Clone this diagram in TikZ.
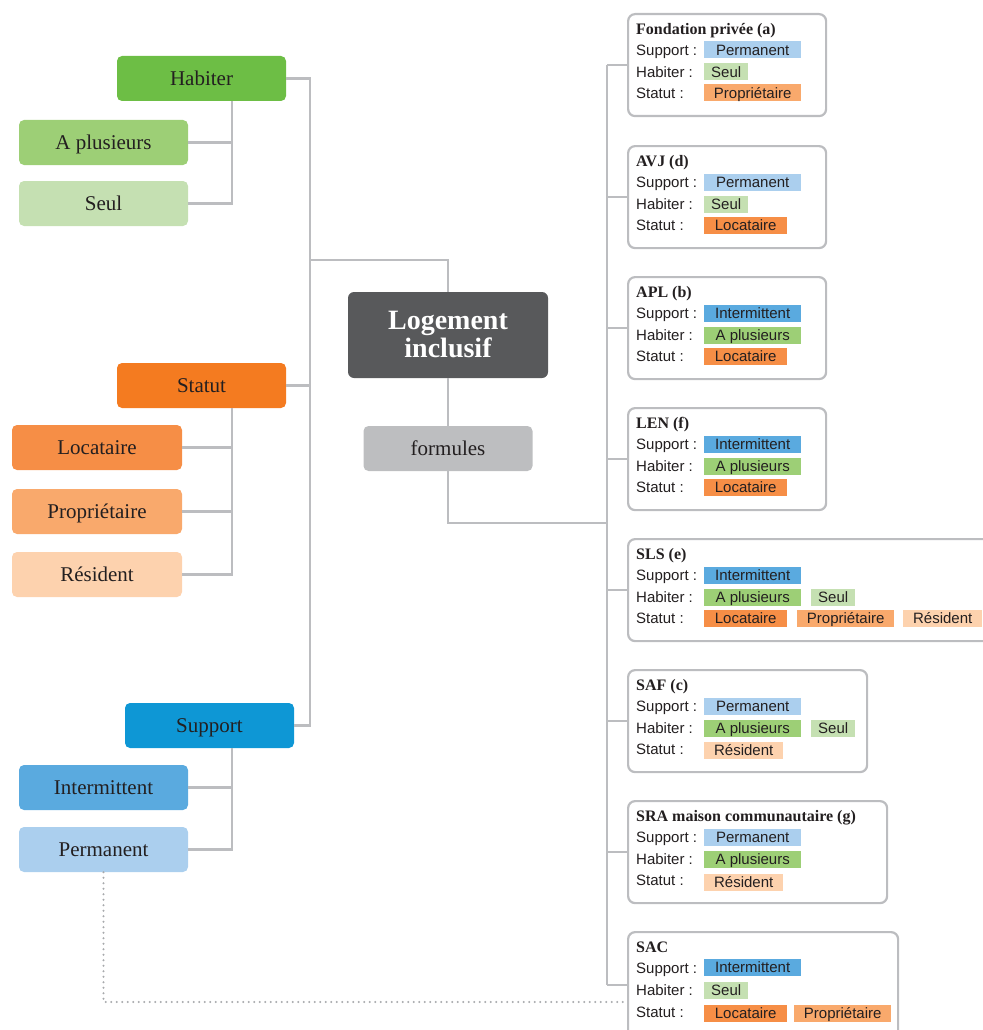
\documentclass[tikz,border=0pt]{standalone}
\usepackage{fontspec}
\setmainfont{Liberation Serif}
\newfontfamily\tagfont{Liberation Sans}
\definecolor{txt}{HTML}{231F20}
\definecolor{lgray}{HTML}{BCBDC0}
\definecolor{dgray}{HTML}{A7A9AC}
\definecolor{cHab}{HTML}{6DBE45}
\definecolor{cPlus}{HTML}{9DCF76}
\definecolor{cSeul}{HTML}{C5E0B2}
\definecolor{cStat}{HTML}{F47B20}
\definecolor{cLoc}{HTML}{F68E46}
\definecolor{cProp}{HTML}{F9A96C}
\definecolor{cRes}{HTML}{FDD2AE}
\definecolor{cSup}{HTML}{0E97D5}
\definecolor{cInt}{HTML}{5AAADF}
\definecolor{cPerm}{HTML}{ABCFEE}
\definecolor{cLog}{HTML}{58595B}
\definecolor{cForm}{HTML}{BDBEC0}
\tikzset{
  cat/.style={rounded corners=5pt, minimum width=169pt, minimum height=45pt, inner sep=0pt,
    text height=14pt, text depth=0pt,
    font=\fontsize{21}{24}\selectfont, text=txt},
  conn/.style={draw=lgray, line width=2.5pt},
  dotconn/.style={draw=dgray, line width=2.3pt, line cap=round, dash pattern=on 0pt off 5.5pt},
  fbox/.style={draw=lgray, line width=2.2pt, rounded corners=7pt, fill=white, anchor=north west,
    inner sep=0pt, minimum height=102pt},
  tag/.style={anchor=west, minimum height=17pt, inner sep=0pt, text=txt,
    text height=11.5pt, text depth=0pt,
    font=\tagfont\fontsize{15}{16}\selectfont},
  lbl/.style={anchor=west, inner sep=0pt, text=txt, text height=11.5pt, text depth=0pt,
    font=\tagfont\fontsize{15}{16}\selectfont},
  ttl/.style={anchor=west, inner sep=0pt, text=txt, text height=11.5pt, text depth=0pt,
    font=\bfseries\fontsize{16}{18}\selectfont},
  tperm/.style={tag, fill=cPerm, minimum width=97pt},
  tint/.style={tag, fill=cInt, minimum width=97pt},
  tseul/.style={tag, fill=cSeul, minimum width=44pt},
  tplus/.style={tag, fill=cPlus, minimum width=97pt},
  tloc/.style={tag, fill=cLoc, minimum width=83pt},
  tprop/.style={tag, fill=cProp, minimum width=97pt},
  tres/.style={tag, fill=cRes, minimum width=79pt},
}
\newcommand\formbox[4]{%
  \node[fbox, minimum width=#3pt] (#1) at (627,#2) {};
  \node[ttl] (#1-t) at (636,#2+16) {#4};
  \node[lbl] (#1-s) at (636,#2+37) {Support :};
  \node[lbl] (#1-h) at (636,#2+59) {Habiter :};
  \node[lbl] (#1-u) at (636,#2+80) {Statut :};
}
\begin{document}
\begin{tikzpicture}[x=1pt,y=-1pt]
\useasboundingbox (0,0) rectangle (982,1030);
\coordinate (hx) at (232,0);
\coordinate (lt) at (310,0);
\coordinate (rt) at (607,0);
\coordinate (j1) at (310,260);
\coordinate (j2) at (607,523);

% left categories
\node[cat, fill=cHab] (hab) at (201.5,78.5) {Habiter};
\node[cat, fill=cPlus] (hab1) at (103.5,142.5) {A plusieurs};
\node[cat, fill=cSeul] (hab2) at (103.5,203.5) {Seul};
\node[cat, fill=cStat] (stat) at (201.5,385.5) {Statut};
\node[cat, fill=cLoc, minimum width=170pt] (st1) at (97,447.5) {Locataire};
\node[cat, fill=cProp, minimum width=170pt] (st2) at (97,511.5) {Propriétaire};
\node[cat, fill=cRes, minimum width=170pt] (st3) at (97,574.5) {Résident};
\node[cat, fill=cSup] (sup) at (209.5,725.5) {Support};
\node[cat, fill=cInt] (su1) at (103.5,787.5) {Intermittent};
\node[cat, fill=cPerm] (su2) at (103.5,849.5) {Permanent};

% centre
\node[rounded corners=6pt, fill=cLog, minimum width=200pt, minimum height=86pt, inner sep=0pt,
  text=white, align=center, font=\bfseries\fontsize{28}{28}\selectfont] (log) at (448,335) {Logement\\inclusif};
\node[cat, fill=cForm] (form) at (448,448.5) {formules};

% left connectors
\draw[conn] (hab.south -| hx) |- (hab2.east);
\draw[conn] (hab1.east) -- (hab1.east -| hx);
\draw[conn] (stat.south -| hx) |- (st3.east);
\draw[conn] (st1.east) -- (st1.east -| hx);
\draw[conn] (st2.east) -- (st2.east -| hx);
\draw[conn] (sup.south -| hx) |- (su2.east);
\draw[conn] (su1.east) -- (su1.east -| hx);
\draw[conn] (hab.east) -| (lt |- sup.east) -- (sup.east);
\draw[conn] (stat.east) -- (stat.east -| lt);
\draw[conn] (log.north) |- (j1);
\draw[conn] (log.south) -- (form.north);
\draw[conn] (form.south) |- (j2);

% right boxes
\formbox{fa}{13}{198}{Fondation privée (a)}
\node[tperm] (fa-1) at (704,50) {Permanent};
\node[tseul] (fa-2) at (704,72) {Seul};
\node[tprop] (fa-3) at (704,93) {Propriétaire};

\formbox{avj}{145}{198}{AVJ (d)}
\node[tperm] (avj-1) at (704,182) {Permanent};
\node[tseul] (avj-2) at (704,204) {Seul};
\node[tloc] (avj-3) at (704,225) {Locataire};

\formbox{apl}{276}{198}{APL (b)}
\node[tint] (apl-1) at (704,313) {Intermittent};
\node[tplus] (apl-2) at (704,335) {A plusieurs};
\node[tloc] (apl-3) at (704,356) {Locataire};

\formbox{len}{407}{198}{LEN (f)}
\node[tint] (len-1) at (704,444) {Intermittent};
\node[tplus] (len-2) at (704,466) {A plusieurs};
\node[tloc] (len-3) at (704,487) {Locataire};

\formbox{sls}{538}{365}{SLS (e)}
\node[tint] (sls-1) at (704,575) {Intermittent};
\node[tplus] (sls-2) at (704,597) {A plusieurs};
\node[tseul] (sls-4) at (811,597) {Seul};
\node[tloc] (sls-3) at (704,618) {Locataire};
\node[tprop] (sls-5) at (797,618) {Propriétaire};
\node[tres] (sls-6) at (903,618) {Résident};

\formbox{saf}{669}{239}{SAF (c)}
\node[tperm] (saf-1) at (704,706) {Permanent};
\node[tplus] (saf-2) at (704,728) {A plusieurs};
\node[tseul] (saf-4) at (811,728) {Seul};
\node[tres] (saf-3) at (704,750) {Résident};

\formbox{sra}{800}{259}{SRA maison communautaire (g)}
\node[tperm] (sra-1) at (704,837) {Permanent};
\node[tplus] (sra-2) at (704,859) {A plusieurs};
\node[tres] (sra-3) at (704,882) {Résident};

\node[fbox, minimum width=270pt, minimum height=115pt] (sac) at (627,931) {};
\node[ttl] (sac-t) at (636,947) {SAC};
\node[lbl] (sac-s) at (636,968) {Support :};
\node[lbl] (sac-h) at (636,990) {Habiter :};
\node[lbl] (sac-u) at (636,1012) {Statut :};
\node[tint] (sac-1) at (704,967) {Intermittent};
\node[tseul] (sac-2) at (704,990) {Seul};
\node[tloc] (sac-3) at (704,1013) {Locataire};
\node[tprop] (sac-4) at (794,1013) {Propriétaire};

% right trunk and stubs
\draw[conn] (rt |- fa.west) -- (rt |- 0,985);
\foreach \b in {fa,avj,apl,len,sls,saf,sra}{
  \draw[conn] (\b.west) -- (\b.west -| rt);
}
\coordinate (sacin) at (627,985);
\draw[conn] (rt |- 0,985) -- (sacin);
\coordinate (sacdot) at (627,1002);
\draw[dotconn] (su2.south) |- (sacdot);
\end{tikzpicture}
\end{document}
